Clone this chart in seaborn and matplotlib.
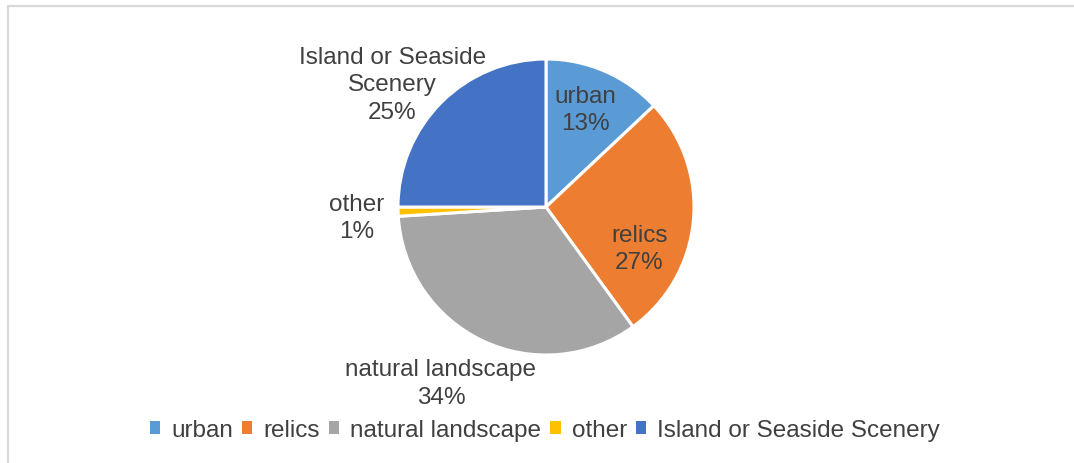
import matplotlib
matplotlib.use("Agg")
import matplotlib.pyplot as plt
from matplotlib.patches import Patch
from matplotlib.lines import Line2D
import seaborn as sns

# Share of tourism resource types
categories = ["urban", "relics", "natural landscape", "other", "Island or Seaside Scenery"]
shares = [13, 27, 34, 1, 25]
slice_labels = ["urban\n13%", "relics\n27%", "natural landscape\n34%", "other\n1%",
                "Island or Seaside\nScenery\n25%"]
colors = ["#5B9BD5", "#ED7D31", "#A5A5A5", "#FFC000", "#4472C4"]

sns.set_theme(style="white")
plt.rcParams["font.family"] = ["Liberation Sans", "DejaVu Sans"]
text_color = "#404040"
fs = 17.5

W, H = 1074, 464
fig = plt.figure(figsize=(W / 100, H / 100), dpi=100)
fig.patch.set_facecolor("white")

# light chart-area frame (top and left edges)
frame_kw = dict(transform=fig.transFigure, color="#d9d9d9", linewidth=1.6)
fig.add_artist(Line2D([8 / W, 1.0], [1 - 7 / H, 1 - 7 / H], **frame_kw))
fig.add_artist(Line2D([8 / W, 8 / W], [0.0, 1 - 7 / H], **frame_kw))

cx, cy, r = 546, H - 208, 148
ax = fig.add_axes([(cx - r) / W, (cy - r) / H, 2 * r / W, 2 * r / H])
palette = sns.color_palette(colors)
wedges, _ = ax.pie(shares, colors=palette, startangle=90, counterclock=False, radius=1,
                   wedgeprops=dict(edgecolor="white", linewidth=2.2))
ax.set_xlim(-1, 1)
ax.set_ylim(-1, 1)
ax.set_aspect("equal")
ax.axis("off")

# label placement (in pie-radius units)
label_pos = [(0.265, 0.66), (0.63, -0.28), (-0.71, -1.19), (-1.28, -0.07), (-1.04, 0.83)]
for txt, (x, y) in zip(slice_labels, label_pos):
    ax.text(x, y, txt, ha="center", va="center", fontsize=fs, color=text_color,
            linespacing=1.32, clip_on=False)

handles = [Patch(facecolor=c, edgecolor="none", label=l) for c, l in zip(palette, categories)]
leg = fig.legend(handles=handles, loc="center", bbox_to_anchor=(545 / W, 1 - 431 / H),
                 ncol=5, frameon=False, fontsize=fs, handlelength=0.42, handleheight=0.42,
                 handletextpad=0.45, columnspacing=0.38, borderaxespad=0)
for t in leg.get_texts():
    t.set_color(text_color)

fig.savefig("out.png", dpi=100, facecolor="white")
